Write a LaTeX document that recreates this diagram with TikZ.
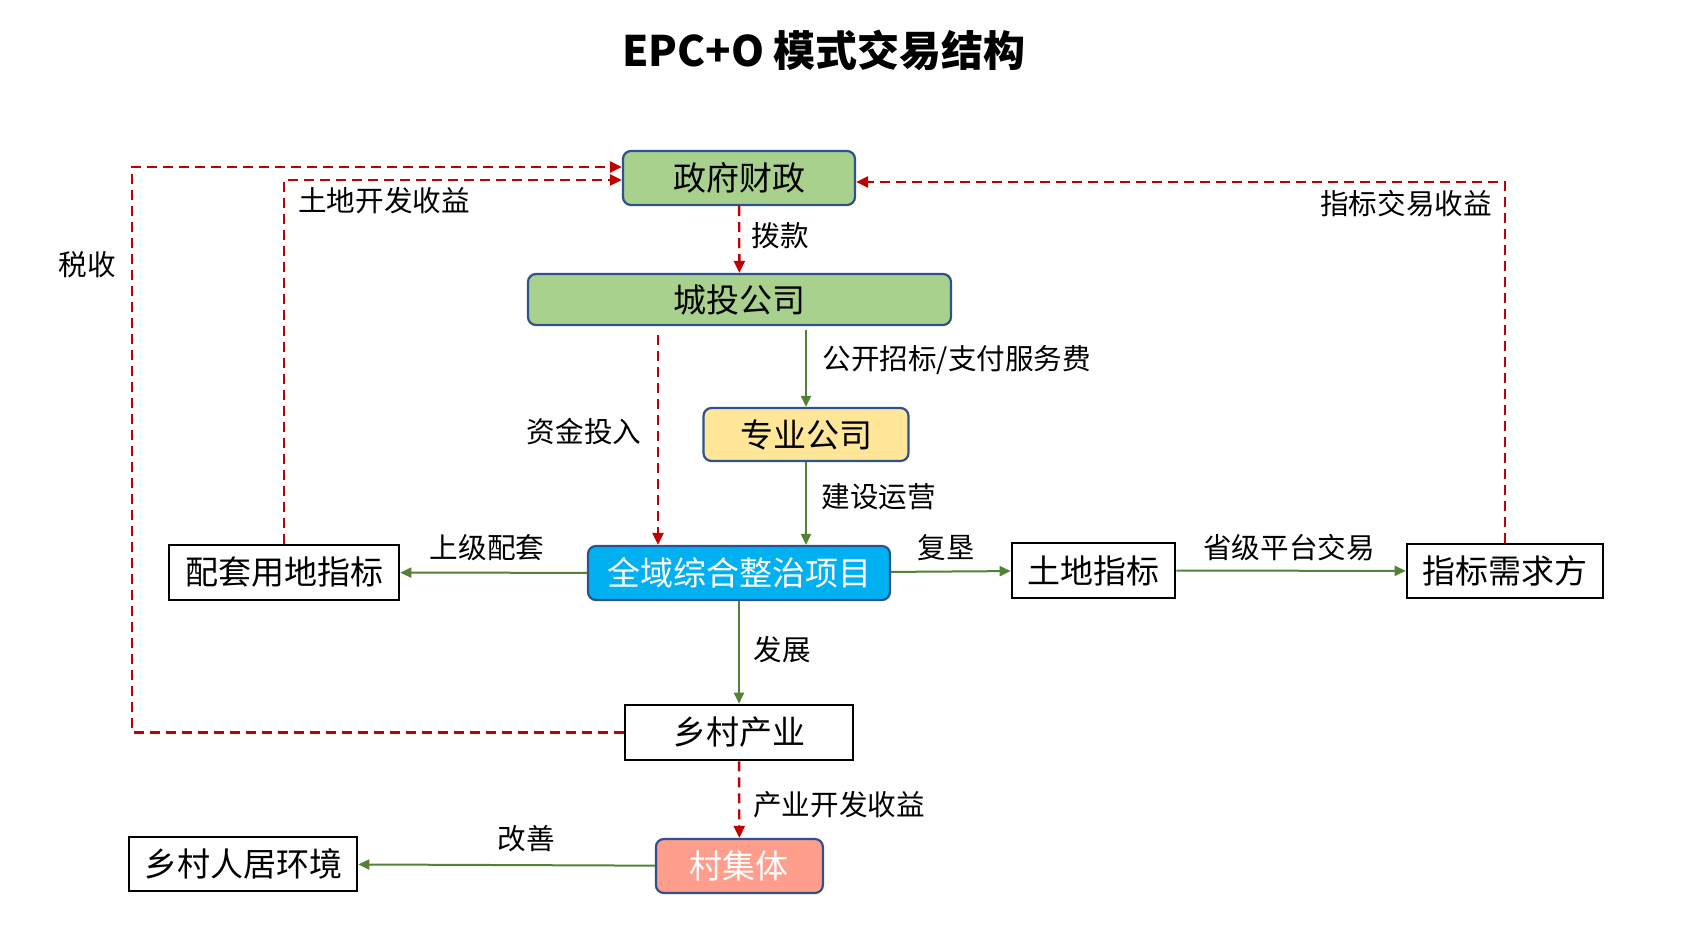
\documentclass[tikz,border=0pt]{standalone}
\usepackage{fontspec}
\setmainfont{Noto Sans CJK SC}
\usetikzlibrary{arrows.meta}
\definecolor{boxgreen}{HTML}{A9D18E}
\definecolor{boxyellow}{HTML}{FFE699}
\definecolor{boxblue}{HTML}{00B0F0}
\definecolor{boxred}{HTML}{FF9E8C}
\definecolor{edgeblue}{HTML}{2F528F}
\definecolor{linered}{HTML}{C00000}
\definecolor{linegreen}{HTML}{548235}
\tikzset{
  colbox/.style={draw=edgeblue, line width=1.1pt, rounded corners=4pt, inner sep=0pt,
    font=\fontsize{16.5pt}{16.5pt}\selectfont},
  whitebox/.style={draw=black, line width=1.3pt, inner sep=0pt,
    font=\fontsize{16.5pt}{16.5pt}\selectfont},
  cashflow/.style={draw=linered, line width=1.2pt, dash pattern=on 5pt off 3pt,
    -{Triangle[length=6pt,width=5.5pt]}},
  workflow/.style={draw=linegreen, line width=1pt, -{Triangle[length=5.5pt,width=5pt]}},
  lbl/.style={inner sep=0pt, font=\fontsize{14.3pt}{14.3pt}\selectfont}
}
\begin{document}
\begin{tikzpicture}[x=0.5pt,y=-0.5pt]
    \useasboundingbox (0,0) rectangle (1682,930);
    \node (title) at (824,50) {\fontsize{21pt}{21pt}\selectfont\bfseries EPC+O 模式交易结构};
    \node[colbox, fill=boxgreen, minimum width=116pt, minimum height=27pt] (gov) at (739,178) {政府财政};
    \node[colbox, fill=boxgreen, minimum width=211.5pt, minimum height=25.5pt] (ctgs) at (739.5,299.5) {城投公司};
    \node[colbox, fill=boxyellow, minimum width=102.5pt, minimum height=26.5pt] (zygs) at (806,434.5) {专业公司};
    \node[colbox, fill=boxblue, text=white, minimum width=151pt, minimum height=27pt] (qy) at (739,573) {全域综合整治项目};
    \node[colbox, fill=boxred, text=white, minimum width=83.5pt, minimum height=27pt] (cjt) at (739.4,866) {村集体};
    \node[whitebox, minimum width=115pt, minimum height=27.5pt] (ptyd) at (284,572.5) {配套用地指标};
    \node[whitebox, minimum width=81.5pt, minimum height=27.5pt] (tdzb) at (1093.5,570.5) {土地指标};
    \node[whitebox, minimum width=98pt, minimum height=27pt] (xqf) at (1505,571) {指标需求方};
    \node[whitebox, minimum width=114pt, minimum height=27.5pt] (xccy) at (739,732.5) {乡村产业};
    \node[whitebox, minimum width=114pt, minimum height=27pt] (rjhj) at (243,864) {乡村人居环境};
    \coordinate (zjtr) at (658,335);
    \coordinate (zbtop) at (806,330);
    \coordinate (shui) at (132,167);
    \coordinate (tdsy) at (284,180);
    \coordinate (jysy) at (1505,182);
    \draw[cashflow] (gov) -- (ctgs);
    \draw[workflow] (zbtop) -- (zygs);
    \draw[cashflow] (zjtr) -- (zjtr |- qy.north);
    \draw[workflow] (zygs) -- (zygs |- qy.north);
    \draw[workflow] (qy) -- (ptyd);
    \draw[workflow] (qy) -- (tdzb);
    \draw[workflow] (tdzb) -- (xqf);
    \draw[workflow] (qy) -- (xccy);
    \draw[cashflow] (xccy) -- (cjt);
    \draw[workflow] (cjt) -- (rjhj);
    \draw[cashflow] (xccy.west) -| (shui) -- (gov.west |- shui);
    \draw[cashflow] (ptyd.north) -- (tdsy) -- (gov.west |- tdsy);
    \draw[cashflow] (xqf.north) -- (jysy) -- (gov.east |- jysy);
    \node[lbl] (l1) at (780,236) {拨款};
    \node[lbl, anchor=west] (l2) at (822,360.5) {公开招标/支付服务费};
    \node[lbl] (l3) at (584,432) {资金投入};
    \node[lbl, anchor=west] (l4) at (821,497) {建设运营};
    \node[lbl] (l5) at (487,548) {上级配套};
    \node[lbl] (l6) at (946,548) {复垦};
    \node[lbl] (l7) at (1289,548) {省级平台交易};
    \node[lbl] (l8) at (782,650) {发展};
    \node[lbl] (l9) at (839,805) {产业开发收益};
    \node[lbl] (l10) at (526,839) {改善};
    \node[lbl] (l11) at (87,265) {税收};
    \node[lbl] (l12) at (384,200.6) {土地开发收益};
    \node[lbl] (l13) at (1406,204) {指标交易收益};
  \end{tikzpicture}
\end{document}
